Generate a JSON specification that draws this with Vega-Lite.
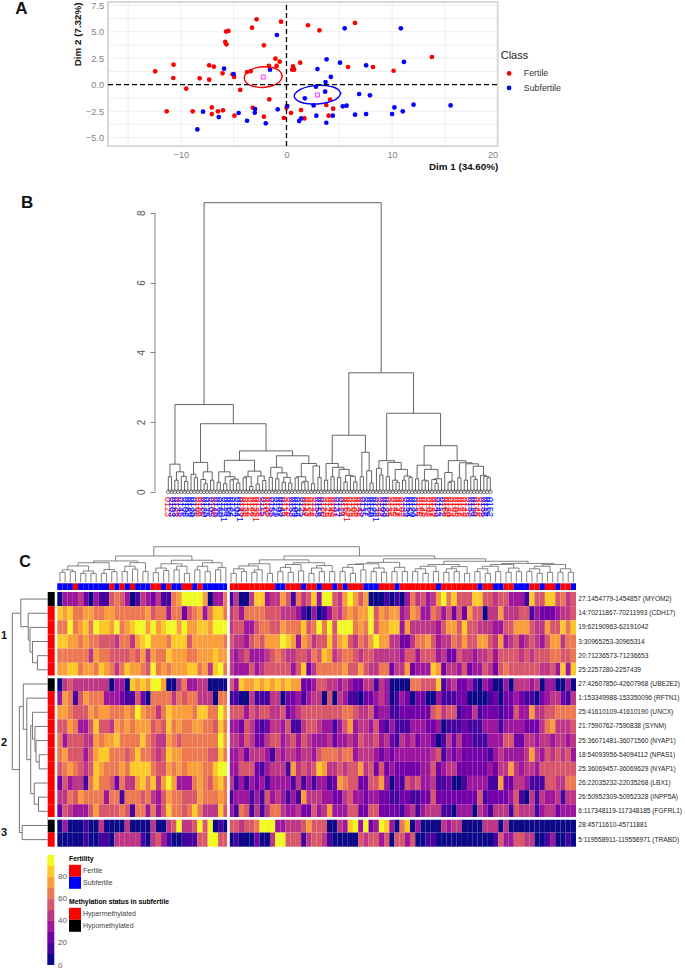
{"$schema":"https://vega.github.io/schema/vega-lite/v6.json","width":685,"height":971,"padding":0,"autosize":{"type":"none"},"background":"white","config":{"view":{"stroke":null},"font":"Liberation Sans"},"data":{"values":[{}]},"resolve":{"scale":{"x":"independent","y":"independent","color":"independent"},"axis":{"x":"independent","y":"independent"},"legend":{"color":"independent"}},"layer":[
{"layer":[
{"data":{"values":[{"g":-15},{"g":-10},{"g":-5},{"g":0},{"g":5},{"g":10},{"g":15}]},"mark":{"type":"rule","color":"#eeeeee","strokeWidth":1},"encoding":{"x":{"field":"g","type":"quantitative","scale":{"domain":[-16.9,20],"range":[108,497.7],"nice":false,"zero":false},"axis":null},"y":{"datum":-5.8,"type":"quantitative","scale":{"domain":[-5.8,7.82],"range":[146,2],"nice":false,"zero":false},"axis":null},"y2":{"datum":7.82}}},
{"data":{"values":[{"g":-5},{"g":-3.75},{"g":-2.5},{"g":-1.25},{"g":0},{"g":1.25},{"g":2.5},{"g":3.75},{"g":5},{"g":6.25},{"g":7.5}]},"mark":{"type":"rule","color":"#eeeeee","strokeWidth":1},"encoding":{"y":{"field":"g","type":"quantitative","axis":null},"x":{"datum":-16.9,"type":"quantitative","axis":null},"x2":{"datum":20}}},
{"mark":{"type":"rect","fill":null,"stroke":"#d9d9d9","strokeWidth":2},"encoding":{"x":{"datum":-16.9,"type":"quantitative","axis":null},"x2":{"datum":20},"y":{"datum":-5.8,"type":"quantitative","axis":null},"y2":{"datum":7.82}}}
]},
{"data":{"values":"x,y,Class\n-2.83,6.18,Fertile\n-3.26,5.39,Fertile\n-0.51,5.96,Fertile\n2.03,5.62,Fertile\n3.12,5.14,Fertile\n6.49,5.84,Fertile\n-5.72,5.02,Fertile\n-5.51,5.08,Fertile\n-5.8,4.04,Fertile\n-5.69,3.82,Fertile\n-2.14,3.72,Fertile\n-1.05,2.46,Fertile\n-0.65,2.18,Fertile\n-10.69,1.89,Fertile\n-12.43,1.26,Fertile\n-7.32,1.83,Fertile\n-6.88,1.7,Fertile\n-1.67,1.77,Fertile\n-0.94,1.77,Fertile\n0.62,1.73,Fertile\n1.3,2.08,Fertile\n0.54,1.42,Fertile\n0.72,1.42,Fertile\n0.65,1.55,Fertile\n5.83,1.67,Fertile\n8.19,1.67,Fertile\n10.14,1.32,Fertile\n13.77,2.62,Fertile\n-10.72,0.63,Fertile\n-8.22,0.6,Fertile\n-7.32,0.47,Fertile\n-6.05,1.07,Fertile\n-5.11,0.98,Fertile\n-4.96,0.73,Fertile\n-3.73,1.2,Fertile\n-3.37,1.29,Fertile\n-9.49,-0.38,Fertile\n-4.38,-0.5,Fertile\n-1.63,-1.39,Fertile\n-11.34,-2.52,Fertile\n-8.88,-2.52,Fertile\n-7.07,-2.15,Fertile\n-7.07,-2.78,Fertile\n-6.49,-2.52,Fertile\n-6.01,-2.43,Fertile\n-4.93,-2.93,Fertile\n-3.19,-2.18,Fertile\n-2.14,-3.03,Fertile\n-0.25,-3.15,Fertile\n0,-2.18,Fertile\n0.43,-2.68,Fertile\n1.38,-2.4,Fertile\n1.7,-3.19,Fertile\n3.77,-1.92,Fertile\n4.13,-1.42,Fertile\n4.42,-2.27,Fertile\n3.99,-2.93,Fertile\n-0.91,4.7,Subfertile\n5.51,5.33,Subfertile\n10.83,5.33,Subfertile\n3.8,2.4,Subfertile\n5.07,2.08,Subfertile\n7.54,1.83,Subfertile\n11.12,2.15,Subfertile\n2.93,1.48,Subfertile\n-5.91,1.51,Subfertile\n-5,1.01,Subfertile\n-1.56,1.42,Subfertile\n4.2,0.73,Subfertile\n3.7,0.25,Subfertile\n2.79,-0.19,Subfertile\n3.66,-0.66,Subfertile\n1.74,-1.29,Subfertile\n6.88,-0.88,Subfertile\n7.9,-1.01,Subfertile\n2.57,-1.96,Subfertile\n5.33,-2.05,Subfertile\n5.69,-1.99,Subfertile\n10.22,-2.15,Subfertile\n12.03,-1.89,Subfertile\n15.54,-1.96,Subfertile\n11.01,-2.52,Subfertile\n10,-2.78,Subfertile\n7.54,-2.78,Subfertile\n6.49,-2.84,Subfertile\n4.38,-2.93,Subfertile\n2.83,-2.93,Subfertile\n3.77,-3.6,Subfertile\n1.38,-3.19,Subfertile\n1.2,-3.44,Subfertile\n0.07,-2.02,Subfertile\n-0.83,-2.33,Subfertile\n-2.97,-2.3,Subfertile\n-3,-2.65,Subfertile\n-4.53,-2.68,Subfertile\n-6.41,-3.06,Subfertile\n-7.9,-2.55,Subfertile\n-3.73,-3.41,Subfertile\n-1.96,-3.66,Subfertile\n-8.44,-4.23,Subfertile","format":{"type":"csv","parse":{"x":"number","y":"number"}}},"mark":{"type":"circle","size":22,"opacity":1},"encoding":{"x":{"field":"x","type":"quantitative","scale":{"domain":[-16.9,20],"range":[108,497.7],"nice":false,"zero":false},"axis":{"orient":"bottom","offset":-825,"values":[-10,0,10,20],"grid":false,"domain":false,"ticks":false,"labelColor":"#7f7f7f","labelFontSize":9.2,"labelPadding":4,"title":"Dim 1 (34.60%)","titleAnchor":"end","titleFontWeight":"bold","titleFontSize":9.8,"titleColor":"#111111","titlePadding":2}},"y":{"field":"y","type":"quantitative","scale":{"domain":[-5.8,7.82],"range":[146,2],"nice":false,"zero":false},"axis":{"orient":"left","offset":-108,"values":[-5,-2.5,0,2.5,5,7.5],"format":".1f","grid":false,"domain":false,"ticks":false,"labelColor":"#7f7f7f","labelFontSize":9.2,"labelPadding":4.5,"title":"Dim 2 (7.32%)","titleAnchor":"end","titleFontWeight":"bold","titleFontSize":9.8,"titleColor":"#111111","titlePadding":3}},"color":{"field":"Class","type":"nominal","scale":{"domain":["Fertile","Subfertile"],"range":["#ff0000","#0000ff"]},"legend":{"orient":"none","legendX":500.7,"legendY":50,"title":"Class","titleFontSize":11,"titleFontWeight":"normal","titleColor":"#222222","titlePadding":8,"labelFontSize":8.8,"labelColor":"#333333","labelOffset":10.3,"symbolType":"circle","symbolSize":22,"symbolOffset":4,"rowPadding":4.5}}}},
{"layer":[
{"data":{"values":"i,x,y,Class\n1,-0.4,0.81,Fertile\n2,-0.54,1.17,Fertile\n3,-0.92,1.48,Fertile\n4,-1.52,1.65,Fertile\n5,-2.2,1.7,Fertile\n6,-2.88,1.59,Fertile\n7,-3.48,1.36,Fertile\n8,-3.86,1.01,Fertile\n9,-4,0.63,Fertile\n10,-3.86,0.27,Fertile\n11,-3.48,-0.04,Fertile\n12,-2.88,-0.21,Fertile\n13,-2.2,-0.26,Fertile\n14,-1.52,-0.15,Fertile\n15,-0.92,0.08,Fertile\n16,-0.54,0.43,Fertile\n17,-0.4,0.81,Fertile\n1,5.13,-0.82,Subfertile\n2,4.95,-0.5,Subfertile\n3,4.49,-0.24,Subfertile\n4,3.77,-0.09,Subfertile\n5,2.93,-0.07,Subfertile\n6,2.09,-0.19,Subfertile\n7,1.37,-0.42,Subfertile\n8,0.91,-0.74,Subfertile\n9,0.73,-1.08,Subfertile\n10,0.91,-1.4,Subfertile\n11,1.37,-1.66,Subfertile\n12,2.09,-1.81,Subfertile\n13,2.93,-1.83,Subfertile\n14,3.77,-1.71,Subfertile\n15,4.49,-1.48,Subfertile\n16,4.95,-1.16,Subfertile\n17,5.13,-0.82,Subfertile","format":{"type":"csv","parse":{"i":"number","x":"number","y":"number"}}},"mark":{"type":"line","strokeWidth":1.4,"interpolate":"cardinal-closed"},"encoding":{"x":{"field":"x","type":"quantitative","scale":{"domain":[-16.9,20],"range":[108,497.7],"nice":false,"zero":false},"axis":null},"y":{"field":"y","type":"quantitative","scale":{"domain":[-5.8,7.82],"range":[146,2],"nice":false,"zero":false},"axis":null},"order":{"field":"i","type":"quantitative"},"color":{"field":"Class","type":"nominal","scale":{"domain":["Fertile","Subfertile"],"range":["#ff0000","#0000ff"]},"legend":null}}},
{"data":{"values":[{"x":-2.2,"y":0.72},{"x":2.93,"y":-0.97}]},"mark":{"type":"square","filled":false,"size":16,"stroke":"#ff33ff","strokeWidth":1,"opacity":1},"encoding":{"x":{"field":"x","type":"quantitative","axis":null},"y":{"field":"y","type":"quantitative","axis":null}}},
{"mark":{"type":"rule","stroke":"#000000","strokeWidth":1.3,"strokeDash":[5,3]},"encoding":{"x":{"datum":0,"type":"quantitative","axis":null},"y":{"datum":-5.8,"type":"quantitative","axis":null},"y2":{"datum":7.82}}},
{"mark":{"type":"rule","stroke":"#000000","strokeWidth":1.3,"strokeDash":[5,3]},"encoding":{"y":{"datum":0,"type":"quantitative","axis":null},"x":{"datum":-16.9,"type":"quantitative","axis":null},"x2":{"datum":20}}},
{"data":{"values":[{"t":"A"}]},"mark":{"type":"text","fontSize":17,"fontWeight":"bold","color":"#111111"},"encoding":{"text":{"field":"t"},"x":{"datum":-25.1,"type":"quantitative","axis":null},"y":{"datum":7.17,"type":"quantitative","axis":null}}}
]},
{"data":{"name":"treeB","values":"l,r,h,hl,hr\n1,2,.43,0,0\n3,4,.33,0,0\n6,7,.29,0,0\n5,6.5,.44,0,.29\n3.5,5.75,.57,.33,.44\n1.5,4.6,.79,.43,.57\n9,10,.4,0,0\n8,9.5,.5,0,.4\n12,13,.23,0,0\n11,12.5,.35,0,.23\n14,15,.33,0,0\n11.75,14.5,.57,.35,.33\n8.75,13.1,.84,.5,.57\n16,17,.27,0,0\n18,19,.23,0,0\n20,21,.34,0,0\n22,23,.25,0,0\n20.5,22.5,.36,.34,.25\n18.5,21.5,.43,.23,.36\n16.5,20,.57,.27,.43\n24,25,.4,0,0\n26,27,.15,0,0\n24.5,26.5,.43,.4,.15\n28,29,.22,0,0\n30,31,.32,0,0\n28.5,30.5,.45,.22,.32\n25.5,29.5,.59,.43,.45\n18.25,27.5,.9,.57,.59\n32,33,.41,0,0\n34,35,.37,0,0\n36,37,.27,0,0\n38,39,.25,0,0\n36.5,38.5,.41,.27,.25\n34.5,37.5,.54,.37,.41\n32.5,36,.7,.41,.54\n40,41,.4,0,0\n42,43,.27,0,0\n42.5,44,.3,.27,0\n40.5,43.25,.43,.4,.3\n45,46,.23,0,0\n47,48,.41,0,0\n45.5,47.5,.74,.23,.41\n41.9,46.5,.81,.43,.74\n34.25,44.2,1.03,.7,.81\n22.9,39.2,1.17,.9,1.03\n10.9,31.05,1.95,.84,1.17\n3.05,21,2.5,.79,1.95\n49,50,.33,0,0\n51,52,.43,0,0\n53,54,.41,0,0\n55,56,.28,0,0\n58,59,.28,0,0\n57,58.5,.44,0,.28\n55.5,57.75,.47,.28,.44\n53.5,56.6,.64,.41,.47\n51.5,55,.7,.43,.64\n49.5,53.25,.81,.33,.7\n60,61,.43,0,0\n63,64,.25,0,0\n62,63.5,.6,0,.25\n60.5,62.75,1.13,.43,.6\n51.4,61.6,1.62,.81,1.13\n66,67,.48,0,0\n65,66.5,.67,0,.48\n68,69,.43,0,0\n71,72,.27,0,0\n70,71.5,.33,0,.27\n73,74,.33,0,0\n75,76,.41,0,0\n73.5,75.5,.45,.33,.41\n70.75,74.5,.64,.33,.45\n68.5,72.6,.84,.43,.64\n65.75,70.55,.89,.67,.84\n77,78,.37,0,0\n80,81,.31,0,0\n79,80.5,.33,0,.31\n83,84,.24,0,0\n82,83.5,.35,0,.24\n82.75,85,.37,.35,0\n79.75,83.9,.64,.33,.37\n77.5,81.8,.76,.37,.64\n87,88,.27,0,0\n87.5,89,.3,.27,0\n86,88.25,.55,0,.3\n90,91,.4,0,0\n92,93,.33,0,0\n95,96,.35,0,0\n94,95.5,.43,0,.35\n99,100,.4,0,0\n98,99.5,.44,0,.4\n97,98.75,.47,0,.44\n94.75,97.9,.73,.43,.47\n92.5,96.3,.8,.33,.73\n90.5,94.4,.83,.4,.8\n87.1,92.45,.89,.55,.83\n79.65,89.8,1.32,.76,.89\n68.15,84.7,2.25,.89,1.32\n56.5,76.4,3.41,1.62,2.25\n12,66.45,8.29,2.5,3.41","format":{"type":"csv","parse":{"l":"number","r":"number","h":"number","hl":"number","hr":"number"}}},"mark":{"type":"rule","color":"#555555","strokeWidth":0.9},"encoding":{"x":{"field":"l","type":"quantitative","scale":{"domain":[1,100],"range":[168.3,490.3],"nice":false,"zero":false},"axis":null},"x2":{"field":"r"},"y":{"field":"h","type":"quantitative","scale":{"domain":[0,8.29],"range":[491.7,202.7],"nice":false,"zero":false},"axis":{"orient":"left","offset":-155,"values":[0,2,4,6,8],"domain":false,"grid":false,"tickSize":5,"tickColor":"#888888","labelAngle":-90,"labelFontSize":10,"labelColor":"#555555","labelPadding":4,"title":null}}}},
{"layer":[
{"data":{"name":"treeB"},"mark":{"type":"rule","color":"#555555","strokeWidth":0.9},"encoding":{"x":{"field":"l","type":"quantitative","scale":{"domain":[1,100],"range":[168.3,490.3],"nice":false,"zero":false},"axis":null},"y":{"field":"hl","type":"quantitative","scale":{"domain":[0,8.29],"range":[491.7,202.7],"nice":false,"zero":false},"axis":null},"y2":{"field":"h"}}},
{"data":{"name":"treeB"},"mark":{"type":"rule","color":"#555555","strokeWidth":0.9},"encoding":{"x":{"field":"r","type":"quantitative","axis":null},"y":{"field":"hr","type":"quantitative","axis":null},"y2":{"field":"h"}}},
{"mark":{"type":"rule","color":"#888888","strokeWidth":1},"encoding":{"x":{"datum":-3.1,"type":"quantitative","axis":null},"y":{"datum":0,"type":"quantitative","axis":null},"y2":{"datum":8}}},
{"data":{"name":"leafB","values":"i,t,Class\n1,0123,Fertile\n2,0103,Subfertile\n3,0163,Subfertile\n4,0136,Fertile\n5,0145,Subfertile\n6,0106,Subfertile\n7,0183,Subfertile\n8,0120,Subfertile\n9,0135,Subfertile\n10,0108,Fertile\n11,0116,Fertile\n12,0130,Subfertile\n13,0125,Subfertile\n14,0105,Subfertile\n15,0140,Fertile\n16,0126,Subfertile\n17,0160,Subfertile\n18,01231,Subfertile\n19,0110,Subfertile\n20,0156,Subfertile\n21,0132,Subfertile\n22,0104,Subfertile\n23,01421,Subfertile\n24,0165,Fertile\n25,0138,Fertile\n26,0112,Fertile\n27,0146,Fertile\n28,01351,Fertile\n29,0128,Fertile\n30,0115,Subfertile\n31,0102,Fertile\n32,0136,Fertile\n33,0155,Subfertile\n34,0129,Subfertile\n35,0107,Subfertile\n36,0143,Subfertile\n37,0118,Fertile\n38,0126,Fertile\n39,0153,Subfertile\n40,0109,Subfertile\n41,0134,Subfertile\n42,0125,Subfertile\n43,0147,Fertile\n44,0113,Fertile\n45,0136,Fertile\n46,0122,Fertile\n47,0158,Subfertile\n48,0119,Subfertile\n49,0130,Fertile\n50,0126,Fertile\n51,0145,Fertile\n52,0103,Fertile\n53,0137,Subfertile\n54,0124,Subfertile\n55,0116,Fertile\n56,01521,Fertile\n57,0139,Fertile\n58,0106,Fertile\n59,0128,Fertile\n60,0142,Fertile\n61,0135,Subfertile\n62,0117,Subfertile\n63,0150,Subfertile\n64,0126,Subfertile\n65,01381,Subfertile\n66,0144,Fertile\n67,0109,Subfertile\n68,0123,Subfertile\n69,0136,Fertile\n70,0115,Fertile\n71,0148,Fertile\n72,0127,Fertile\n73,0102,Fertile\n74,0139,Subfertile\n75,0154,Subfertile\n76,0120,Subfertile\n77,0133,Subfertile\n78,0116,Fertile\n79,0146,Fertile\n80,0125,Fertile\n81,0108,Fertile\n82,0137,Fertile\n83,0129,Fertile\n84,0143,Subfertile\n85,0112,Subfertile\n86,0156,Fertile\n87,0130,Fertile\n88,0124,Fertile\n89,0105,Fertile\n90,0138,Fertile\n91,0117,Fertile\n92,0149,Fertile\n93,0126,Fertile\n94,0133,Subfertile\n95,0110,Subfertile\n96,0145,Fertile\n97,0128,Fertile\n98,0136,Subfertile\n99,0119,Subfertile\n100,0152,Subfertile","format":{"type":"csv","parse":{"i":"number"}}},"mark":{"type":"circle","size":14,"filled":false,"fillOpacity":0,"stroke":"#444444","strokeWidth":0.7,"opacity":1},"encoding":{"x":{"field":"i","type":"quantitative","axis":null},"y":{"datum":0,"type":"quantitative","axis":null}}},
{"data":{"name":"leafB"},"mark":{"type":"text","angle":90,"align":"left","baseline":"middle","fontSize":9},"encoding":{"text":{"field":"t"},"x":{"field":"i","type":"quantitative","axis":null},"y":{"datum":-0.15,"type":"quantitative","axis":null},"color":{"field":"Class","type":"nominal","scale":{"domain":["Fertile","Subfertile"],"range":["#ff0000","#0000ff"]},"legend":null}}},
{"data":{"values":[{"t":"B"}]},"mark":{"type":"text","fontSize":17,"fontWeight":"bold","color":"#111111"},"encoding":{"text":{"field":"t"},"x":{"datum":-42.4,"type":"quantitative","axis":null},"y":{"datum":8.28,"type":"quantitative","axis":null}}}
]},
{"data":{"values":"r,c,v\n1,1,5\n1,2,35\n1,3,35\n1,4,35\n1,5,45\n1,6,25\n1,7,5\n1,8,35\n1,9,15\n1,10,15\n1,11,55\n1,12,65\n1,13,55\n1,14,35\n1,15,5\n1,16,15\n1,17,45\n1,18,35\n1,19,25\n1,20,45\n1,21,15\n1,22,15\n1,23,65\n1,24,75\n1,25,95\n1,26,95\n1,27,95\n1,28,95\n1,29,75\n1,30,5\n1,31,35\n1,32,35\n1,33,65\n1,34,15\n1,35,45\n1,36,5\n1,37,5\n1,38,45\n1,39,85\n1,40,85\n1,41,35\n1,42,45\n1,43,45\n1,44,75\n1,45,55\n1,46,15\n1,47,65\n1,48,45\n1,49,55\n1,50,85\n1,51,35\n1,52,95\n1,53,95\n1,54,55\n1,55,45\n1,56,75\n1,57,95\n1,58,75\n1,59,55\n1,60,75\n1,61,5\n1,62,5\n1,63,5\n1,64,15\n1,65,5\n1,66,15\n1,67,5\n1,68,35\n1,69,65\n1,70,45\n1,71,55\n1,72,35\n1,73,45\n1,74,75\n1,75,95\n1,76,65\n1,77,85\n1,78,55\n1,79,55\n1,80,55\n1,81,85\n1,82,85\n1,83,55\n1,84,55\n1,85,45\n1,86,55\n1,87,55\n1,88,35\n1,89,35\n1,90,35\n1,91,15\n1,92,85\n1,93,55\n1,94,55\n1,95,85\n1,96,85\n1,97,55\n1,98,65\n1,99,45\n1,100,55\n2,1,85\n2,2,75\n2,3,85\n2,4,65\n2,5,65\n2,6,75\n2,7,75\n2,8,65\n2,9,65\n2,10,75\n2,11,75\n2,12,65\n2,13,65\n2,14,65\n2,15,65\n2,16,65\n2,17,65\n2,18,75\n2,19,55\n2,20,65\n2,21,65\n2,22,35\n2,23,65\n2,24,65\n2,25,25\n2,26,55\n2,27,65\n2,28,75\n2,29,35\n2,30,65\n2,31,85\n2,32,85\n2,33,65\n2,34,45\n2,35,55\n2,36,35\n2,37,65\n2,38,65\n2,39,65\n2,40,65\n2,41,55\n2,42,55\n2,43,55\n2,44,45\n2,45,45\n2,46,45\n2,47,35\n2,48,15\n2,49,5\n2,50,35\n2,51,5\n2,52,15\n2,53,35\n2,54,55\n2,55,45\n2,56,65\n2,57,75\n2,58,65\n2,59,75\n2,60,75\n2,61,95\n2,62,55\n2,63,75\n2,64,65\n2,65,75\n2,66,75\n2,67,35\n2,68,45\n2,69,75\n2,70,65\n2,71,35\n2,72,35\n2,73,65\n2,74,55\n2,75,35\n2,76,55\n2,77,25\n2,78,55\n2,79,25\n2,80,75\n2,81,55\n2,82,55\n2,83,5\n2,84,45\n2,85,45\n2,86,75\n2,87,45\n2,88,45\n2,89,45\n2,90,55\n2,91,55\n2,92,15\n2,93,35\n2,94,25\n2,95,25\n2,96,25\n2,97,35\n2,98,45\n2,99,45\n2,100,55\n3,1,65\n3,2,65\n3,3,95\n3,4,65\n3,5,75\n3,6,85\n3,7,65\n3,8,95\n3,9,85\n3,10,85\n3,11,75\n3,12,95\n3,13,65\n3,14,75\n3,15,85\n3,16,95\n3,17,95\n3,18,75\n3,19,95\n3,20,75\n3,21,85\n3,22,95\n3,23,95\n3,24,75\n3,25,95\n3,26,75\n3,27,75\n3,28,85\n3,29,85\n3,30,75\n3,31,95\n3,32,95\n3,33,95\n3,34,45\n3,35,55\n3,36,55\n3,37,35\n3,38,35\n3,39,55\n3,40,65\n3,41,65\n3,42,55\n3,43,55\n3,44,75\n3,45,65\n3,46,65\n3,47,65\n3,48,85\n3,49,55\n3,50,65\n3,51,95\n3,52,65\n3,53,95\n3,54,55\n3,55,95\n3,56,95\n3,57,95\n3,58,65\n3,59,75\n3,60,65\n3,61,95\n3,62,55\n3,63,75\n3,64,75\n3,65,85\n3,66,85\n3,67,35\n3,68,75\n3,69,45\n3,70,45\n3,71,45\n3,72,45\n3,73,45\n3,74,35\n3,75,55\n3,76,75\n3,77,75\n3,78,55\n3,79,85\n3,80,55\n3,81,55\n3,82,45\n3,83,45\n3,84,45\n3,85,35\n3,86,35\n3,87,55\n3,88,55\n3,89,75\n3,90,75\n3,91,75\n3,92,55\n3,93,45\n3,94,45\n3,95,75\n3,96,55\n3,97,55\n3,98,85\n3,99,65\n3,100,85\n4,1,85\n4,2,85\n4,3,75\n4,4,75\n4,5,65\n4,6,75\n4,7,65\n4,8,65\n4,9,55\n4,10,55\n4,11,55\n4,12,45\n4,13,65\n4,14,65\n4,15,45\n4,16,75\n4,17,85\n4,18,95\n4,19,75\n4,20,75\n4,21,75\n4,22,65\n4,23,85\n4,24,85\n4,25,85\n4,26,55\n4,27,75\n4,28,75\n4,29,75\n4,30,75\n4,31,75\n4,32,75\n4,33,65\n4,34,55\n4,35,45\n4,36,45\n4,37,35\n4,38,55\n4,39,65\n4,40,55\n4,41,75\n4,42,75\n4,43,75\n4,44,95\n4,45,85\n4,46,75\n4,47,35\n4,48,75\n4,49,65\n4,50,45\n4,51,55\n4,52,55\n4,53,85\n4,54,55\n4,55,75\n4,56,85\n4,57,55\n4,58,45\n4,59,65\n4,60,55\n4,61,75\n4,62,95\n4,63,75\n4,64,75\n4,65,45\n4,66,45\n4,67,25\n4,68,25\n4,69,45\n4,70,65\n4,71,65\n4,72,75\n4,73,55\n4,74,35\n4,75,45\n4,76,45\n4,77,65\n4,78,55\n4,79,75\n4,80,55\n4,81,55\n4,82,75\n4,83,75\n4,84,55\n4,85,45\n4,86,75\n4,87,35\n4,88,45\n4,89,55\n4,90,35\n4,91,45\n4,92,55\n4,93,45\n4,94,35\n4,95,55\n4,96,75\n4,97,75\n4,98,45\n4,99,65\n4,100,65\n5,1,65\n5,2,65\n5,3,65\n5,4,65\n5,5,65\n5,6,65\n5,7,45\n5,8,75\n5,9,65\n5,10,65\n5,11,55\n5,12,55\n5,13,55\n5,14,55\n5,15,65\n5,16,55\n5,17,75\n5,18,45\n5,19,75\n5,20,65\n5,21,65\n5,22,85\n5,23,75\n5,24,75\n5,25,75\n5,26,65\n5,27,65\n5,28,75\n5,29,75\n5,30,75\n5,31,85\n5,32,75\n5,33,75\n5,34,45\n5,35,35\n5,36,45\n5,37,55\n5,38,35\n5,39,35\n5,40,35\n5,41,45\n5,42,55\n5,43,65\n5,44,55\n5,45,45\n5,46,45\n5,47,55\n5,48,55\n5,49,45\n5,50,65\n5,51,55\n5,52,85\n5,53,75\n5,54,45\n5,55,55\n5,56,65\n5,57,65\n5,58,55\n5,59,45\n5,60,55\n5,61,55\n5,62,45\n5,63,45\n5,64,45\n5,65,45\n5,66,45\n5,67,35\n5,68,55\n5,69,55\n5,70,35\n5,71,55\n5,72,55\n5,73,55\n5,74,35\n5,75,45\n5,76,25\n5,77,25\n5,78,55\n5,79,45\n5,80,45\n5,81,35\n5,82,45\n5,83,45\n5,84,55\n5,85,35\n5,86,55\n5,87,55\n5,88,55\n5,89,55\n5,90,45\n5,91,55\n5,92,45\n5,93,55\n5,94,55\n5,95,55\n5,96,65\n5,97,65\n5,98,55\n5,99,55\n5,100,65\n6,1,75\n6,2,75\n6,3,85\n6,4,85\n6,5,65\n6,6,75\n6,7,75\n6,8,65\n6,9,85\n6,10,75\n6,11,65\n6,12,45\n6,13,65\n6,14,85\n6,15,75\n6,16,75\n6,17,65\n6,18,55\n6,19,95\n6,20,65\n6,21,75\n6,22,65\n6,23,75\n6,24,75\n6,25,75\n6,26,85\n6,27,85\n6,28,65\n6,29,75\n6,30,45\n6,31,85\n6,32,95\n6,33,65\n6,34,45\n6,35,35\n6,36,35\n6,37,35\n6,38,55\n6,39,35\n6,40,45\n6,41,55\n6,42,55\n6,43,55\n6,44,55\n6,45,55\n6,46,35\n6,47,55\n6,48,85\n6,49,25\n6,50,45\n6,51,65\n6,52,65\n6,53,65\n6,54,65\n6,55,65\n6,56,75\n6,57,55\n6,58,55\n6,59,75\n6,60,55\n6,61,45\n6,62,45\n6,63,65\n6,64,65\n6,65,25\n6,66,45\n6,67,45\n6,68,75\n6,69,25\n6,70,35\n6,71,35\n6,72,35\n6,73,85\n6,74,75\n6,75,25\n6,76,45\n6,77,45\n6,78,35\n6,79,55\n6,80,25\n6,81,35\n6,82,35\n6,83,55\n6,84,45\n6,85,25\n6,86,55\n6,87,65\n6,88,55\n6,89,55\n6,90,55\n6,91,55\n6,92,55\n6,93,55\n6,94,45\n6,95,45\n6,96,55\n6,97,35\n6,98,85\n6,99,35\n6,100,85\n7,1,5\n7,2,45\n7,3,55\n7,4,45\n7,5,45\n7,6,45\n7,7,45\n7,8,45\n7,9,45\n7,10,45\n7,11,5\n7,12,35\n7,13,35\n7,14,5\n7,15,85\n7,16,75\n7,17,85\n7,18,75\n7,19,95\n7,20,95\n7,21,75\n7,22,5\n7,23,5\n7,24,45\n7,25,65\n7,26,35\n7,27,35\n7,28,45\n7,29,45\n7,30,5\n7,31,5\n7,32,5\n7,33,5\n7,34,55\n7,35,35\n7,36,85\n7,37,75\n7,38,75\n7,39,85\n7,40,75\n7,41,85\n7,42,75\n7,43,85\n7,44,75\n7,45,85\n7,46,75\n7,47,75\n7,48,25\n7,49,25\n7,50,35\n7,51,55\n7,52,55\n7,53,45\n7,54,45\n7,55,35\n7,56,45\n7,57,35\n7,58,25\n7,59,25\n7,60,45\n7,61,45\n7,62,15\n7,63,45\n7,64,35\n7,65,5\n7,66,5\n7,67,5\n7,68,5\n7,69,65\n7,70,65\n7,71,55\n7,72,55\n7,73,55\n7,74,85\n7,75,15\n7,76,35\n7,77,45\n7,78,25\n7,79,25\n7,80,35\n7,81,15\n7,82,5\n7,83,35\n7,84,25\n7,85,5\n7,86,5\n7,87,35\n7,88,5\n7,89,45\n7,90,45\n7,91,45\n7,92,35\n7,93,45\n7,94,5\n7,95,35\n7,96,35\n7,97,5\n7,98,5\n7,99,35\n7,100,5\n8,1,35\n8,2,75\n8,3,65\n8,4,15\n8,5,55\n8,6,75\n8,7,65\n8,8,65\n8,9,65\n8,10,35\n8,11,35\n8,12,35\n8,13,25\n8,14,15\n8,15,15\n8,16,55\n8,17,25\n8,18,5\n8,19,65\n8,20,65\n8,21,65\n8,22,65\n8,23,45\n8,24,65\n8,25,55\n8,26,65\n8,27,65\n8,28,45\n8,29,45\n8,30,45\n8,31,5\n8,32,65\n8,33,65\n8,34,15\n8,35,15\n8,36,5\n8,37,5\n8,38,45\n8,39,15\n8,40,15\n8,41,15\n8,42,45\n8,43,45\n8,44,5\n8,45,25\n8,46,25\n8,47,35\n8,48,15\n8,49,35\n8,50,45\n8,51,45\n8,52,5\n8,53,55\n8,54,5\n8,55,45\n8,56,35\n8,57,15\n8,58,15\n8,59,5\n8,60,25\n8,61,25\n8,62,35\n8,63,45\n8,64,35\n8,65,5\n8,66,15\n8,67,35\n8,68,25\n8,69,5\n8,70,25\n8,71,25\n8,72,5\n8,73,5\n8,74,35\n8,75,15\n8,76,15\n8,77,15\n8,78,25\n8,79,25\n8,80,5\n8,81,5\n8,82,5\n8,83,5\n8,84,15\n8,85,25\n8,86,5\n8,87,25\n8,88,25\n8,89,35\n8,90,25\n8,91,15\n8,92,15\n8,93,5\n8,94,25\n8,95,35\n8,96,45\n8,97,45\n8,98,25\n8,99,15\n8,100,45\n9,1,75\n9,2,75\n9,3,65\n9,4,55\n9,5,55\n9,6,55\n9,7,75\n9,8,65\n9,9,75\n9,10,75\n9,11,65\n9,12,65\n9,13,65\n9,14,75\n9,15,65\n9,16,95\n9,17,75\n9,18,65\n9,19,65\n9,20,45\n9,21,65\n9,22,85\n9,23,75\n9,24,75\n9,25,75\n9,26,75\n9,27,65\n9,28,85\n9,29,85\n9,30,65\n9,31,65\n9,32,95\n9,33,75\n9,34,55\n9,35,55\n9,36,55\n9,37,35\n9,38,55\n9,39,45\n9,40,55\n9,41,55\n9,42,45\n9,43,45\n9,44,55\n9,45,25\n9,46,35\n9,47,45\n9,48,55\n9,49,55\n9,50,55\n9,51,55\n9,52,55\n9,53,55\n9,54,55\n9,55,55\n9,56,65\n9,57,65\n9,58,55\n9,59,45\n9,60,45\n9,61,55\n9,62,25\n9,63,35\n9,64,35\n9,65,15\n9,66,15\n9,67,25\n9,68,25\n9,69,25\n9,70,25\n9,71,25\n9,72,25\n9,73,55\n9,74,65\n9,75,45\n9,76,55\n9,77,55\n9,78,15\n9,79,25\n9,80,25\n9,81,45\n9,82,15\n9,83,25\n9,84,25\n9,85,25\n9,86,15\n9,87,25\n9,88,25\n9,89,55\n9,90,35\n9,91,35\n9,92,75\n9,93,45\n9,94,45\n9,95,55\n9,96,55\n9,97,65\n9,98,65\n9,99,65\n9,100,65\n10,1,55\n10,2,55\n10,3,75\n10,4,65\n10,5,35\n10,6,35\n10,7,55\n10,8,85\n10,9,55\n10,10,55\n10,11,45\n10,12,75\n10,13,65\n10,14,75\n10,15,65\n10,16,75\n10,17,75\n10,18,75\n10,19,55\n10,20,65\n10,21,55\n10,22,85\n10,23,65\n10,24,75\n10,25,65\n10,26,65\n10,27,75\n10,28,75\n10,29,65\n10,30,65\n10,31,55\n10,32,85\n10,33,65\n10,34,35\n10,35,35\n10,36,25\n10,37,55\n10,38,45\n10,39,25\n10,40,15\n10,41,25\n10,42,45\n10,43,45\n10,44,35\n10,45,55\n10,46,15\n10,47,15\n10,48,45\n10,49,55\n10,50,55\n10,51,45\n10,52,35\n10,53,35\n10,54,15\n10,55,35\n10,56,55\n10,57,75\n10,58,35\n10,59,45\n10,60,45\n10,61,35\n10,62,55\n10,63,25\n10,64,15\n10,65,35\n10,66,15\n10,67,15\n10,68,15\n10,69,35\n10,70,35\n10,71,35\n10,72,25\n10,73,25\n10,74,35\n10,75,5\n10,76,15\n10,77,15\n10,78,15\n10,79,25\n10,80,15\n10,81,15\n10,82,15\n10,83,35\n10,84,35\n10,85,35\n10,86,15\n10,87,35\n10,88,35\n10,89,35\n10,90,35\n10,91,25\n10,92,25\n10,93,25\n10,94,45\n10,95,65\n10,96,75\n10,97,45\n10,98,45\n10,99,45\n10,100,55\n11,1,65\n11,2,35\n11,3,55\n11,4,55\n11,5,55\n11,6,45\n11,7,45\n11,8,75\n11,9,65\n11,10,75\n11,11,75\n11,12,85\n11,13,65\n11,14,65\n11,15,65\n11,16,65\n11,17,85\n11,18,65\n11,19,55\n11,20,45\n11,21,45\n11,22,75\n11,23,65\n11,24,55\n11,25,65\n11,26,65\n11,27,65\n11,28,65\n11,29,65\n11,30,65\n11,31,65\n11,32,95\n11,33,75\n11,34,45\n11,35,45\n11,36,35\n11,37,55\n11,38,45\n11,39,25\n11,40,25\n11,41,45\n11,42,55\n11,43,55\n11,44,35\n11,45,45\n11,46,55\n11,47,35\n11,48,55\n11,49,45\n11,50,35\n11,51,35\n11,52,35\n11,53,45\n11,54,25\n11,55,35\n11,56,35\n11,57,45\n11,58,35\n11,59,55\n11,60,45\n11,61,45\n11,62,55\n11,63,35\n11,64,45\n11,65,25\n11,66,15\n11,67,45\n11,68,35\n11,69,45\n11,70,25\n11,71,35\n11,72,35\n11,73,25\n11,74,5\n11,75,15\n11,76,45\n11,77,25\n11,78,45\n11,79,25\n11,80,25\n11,81,15\n11,82,15\n11,83,15\n11,84,35\n11,85,35\n11,86,35\n11,87,55\n11,88,55\n11,89,25\n11,90,25\n11,91,45\n11,92,45\n11,93,35\n11,94,45\n11,95,45\n11,96,35\n11,97,45\n11,98,45\n11,99,35\n11,100,45\n12,1,65\n12,2,75\n12,3,55\n12,4,55\n12,5,55\n12,6,35\n12,7,55\n12,8,75\n12,9,85\n12,10,85\n12,11,65\n12,12,65\n12,13,65\n12,14,55\n12,15,65\n12,16,85\n12,17,65\n12,18,65\n12,19,55\n12,20,45\n12,21,55\n12,22,85\n12,23,75\n12,24,75\n12,25,65\n12,26,65\n12,27,65\n12,28,65\n12,29,65\n12,30,55\n12,31,55\n12,32,85\n12,33,65\n12,34,35\n12,35,35\n12,36,45\n12,37,25\n12,38,45\n12,39,45\n12,40,45\n12,41,35\n12,42,15\n12,43,45\n12,44,35\n12,45,45\n12,46,45\n12,47,35\n12,48,45\n12,49,45\n12,50,35\n12,51,55\n12,52,65\n12,53,65\n12,54,65\n12,55,55\n12,56,65\n12,57,65\n12,58,35\n12,59,45\n12,60,45\n12,61,45\n12,62,35\n12,63,25\n12,64,35\n12,65,25\n12,66,35\n12,67,35\n12,68,35\n12,69,35\n12,70,35\n12,71,35\n12,72,35\n12,73,45\n12,74,55\n12,75,15\n12,76,35\n12,77,25\n12,78,35\n12,79,25\n12,80,25\n12,81,25\n12,82,25\n12,83,25\n12,84,15\n12,85,35\n12,86,45\n12,87,35\n12,88,35\n12,89,35\n12,90,35\n12,91,45\n12,92,75\n12,93,45\n12,94,35\n12,95,55\n12,96,45\n12,97,55\n12,98,45\n12,99,55\n12,100,35\n13,1,55\n13,2,65\n13,3,75\n13,4,65\n13,5,55\n13,6,45\n13,7,55\n13,8,85\n13,9,75\n13,10,65\n13,11,65\n13,12,65\n13,13,75\n13,14,65\n13,15,85\n13,16,85\n13,17,85\n13,18,85\n13,19,65\n13,20,55\n13,21,55\n13,22,75\n13,23,65\n13,24,75\n13,25,65\n13,26,75\n13,27,75\n13,28,75\n13,29,65\n13,30,65\n13,31,85\n13,32,95\n13,33,95\n13,34,35\n13,35,35\n13,36,55\n13,37,55\n13,38,55\n13,39,25\n13,40,15\n13,41,35\n13,42,45\n13,43,45\n13,44,45\n13,45,15\n13,46,75\n13,47,45\n13,48,55\n13,49,45\n13,50,55\n13,51,85\n13,52,75\n13,53,45\n13,54,45\n13,55,55\n13,56,45\n13,57,55\n13,58,55\n13,59,75\n13,60,45\n13,61,55\n13,62,25\n13,63,55\n13,64,25\n13,65,35\n13,66,25\n13,67,25\n13,68,25\n13,69,25\n13,70,25\n13,71,35\n13,72,35\n13,73,55\n13,74,25\n13,75,35\n13,76,45\n13,77,45\n13,78,25\n13,79,25\n13,80,25\n13,81,25\n13,82,25\n13,83,25\n13,84,35\n13,85,25\n13,86,45\n13,87,45\n13,88,75\n13,89,45\n13,90,35\n13,91,45\n13,92,45\n13,93,35\n13,94,55\n13,95,55\n13,96,55\n13,97,55\n13,98,55\n13,99,55\n13,100,55\n14,1,25\n14,2,55\n14,3,35\n14,4,45\n14,5,45\n14,6,15\n14,7,65\n14,8,85\n14,9,65\n14,10,65\n14,11,55\n14,12,25\n14,13,65\n14,14,45\n14,15,45\n14,16,75\n14,17,85\n14,18,65\n14,19,85\n14,20,45\n14,21,75\n14,22,95\n14,23,75\n14,24,35\n14,25,35\n14,26,35\n14,27,65\n14,28,75\n14,29,65\n14,30,55\n14,31,75\n14,32,85\n14,33,65\n14,34,45\n14,35,15\n14,36,35\n14,37,15\n14,38,35\n14,39,25\n14,40,35\n14,41,15\n14,42,35\n14,43,35\n14,44,35\n14,45,35\n14,46,15\n14,47,45\n14,48,15\n14,49,35\n14,50,15\n14,51,35\n14,52,35\n14,53,15\n14,54,25\n14,55,75\n14,56,65\n14,57,55\n14,58,55\n14,59,25\n14,60,25\n14,61,55\n14,62,55\n14,63,75\n14,64,35\n14,65,5\n14,66,25\n14,67,15\n14,68,55\n14,69,45\n14,70,55\n14,71,35\n14,72,35\n14,73,45\n14,74,15\n14,75,15\n14,76,25\n14,77,5\n14,78,5\n14,79,15\n14,80,35\n14,81,35\n14,82,35\n14,83,35\n14,84,15\n14,85,15\n14,86,75\n14,87,25\n14,88,25\n14,89,45\n14,90,45\n14,91,35\n14,92,15\n14,93,15\n14,94,15\n14,95,55\n14,96,55\n14,97,45\n14,98,45\n14,99,65\n14,100,65\n15,1,45\n15,2,45\n15,3,65\n15,4,55\n15,5,75\n15,6,65\n15,7,65\n15,8,65\n15,9,65\n15,10,35\n15,11,65\n15,12,65\n15,13,15\n15,14,65\n15,15,65\n15,16,65\n15,17,55\n15,18,65\n15,19,45\n15,20,35\n15,21,55\n15,22,75\n15,23,65\n15,24,65\n15,25,55\n15,26,55\n15,27,55\n15,28,75\n15,29,65\n15,30,65\n15,31,65\n15,32,75\n15,33,65\n15,34,15\n15,35,35\n15,36,35\n15,37,35\n15,38,15\n15,39,35\n15,40,15\n15,41,55\n15,42,35\n15,43,45\n15,44,35\n15,45,15\n15,46,35\n15,47,15\n15,48,75\n15,49,45\n15,50,45\n15,51,45\n15,52,35\n15,53,35\n15,54,25\n15,55,25\n15,56,45\n15,57,55\n15,58,35\n15,59,35\n15,60,25\n15,61,35\n15,62,35\n15,63,25\n15,64,25\n15,65,15\n15,66,15\n15,67,25\n15,68,25\n15,69,15\n15,70,15\n15,71,25\n15,72,25\n15,73,55\n15,74,25\n15,75,25\n15,76,25\n15,77,25\n15,78,25\n15,79,25\n15,80,25\n15,81,25\n15,82,55\n15,83,15\n15,84,25\n15,85,25\n15,86,25\n15,87,25\n15,88,35\n15,89,55\n15,90,15\n15,91,5\n15,92,45\n15,93,15\n15,94,45\n15,95,35\n15,96,35\n15,97,45\n15,98,15\n15,99,45\n15,100,45\n16,1,25\n16,2,55\n16,3,45\n16,4,35\n16,5,35\n16,6,35\n16,7,55\n16,8,75\n16,9,55\n16,10,55\n16,11,55\n16,12,55\n16,13,65\n16,14,55\n16,15,15\n16,16,65\n16,17,65\n16,18,35\n16,19,65\n16,20,35\n16,21,55\n16,22,85\n16,23,65\n16,24,65\n16,25,55\n16,26,65\n16,27,85\n16,28,65\n16,29,45\n16,30,45\n16,31,45\n16,32,85\n16,33,55\n16,34,35\n16,35,15\n16,36,65\n16,37,55\n16,38,15\n16,39,45\n16,40,15\n16,41,45\n16,42,65\n16,43,65\n16,44,45\n16,45,35\n16,46,35\n16,47,45\n16,48,25\n16,49,25\n16,50,55\n16,51,35\n16,52,45\n16,53,75\n16,54,35\n16,55,35\n16,56,35\n16,57,55\n16,58,55\n16,59,25\n16,60,25\n16,61,55\n16,62,55\n16,63,25\n16,64,25\n16,65,25\n16,66,25\n16,67,15\n16,68,35\n16,69,45\n16,70,15\n16,71,35\n16,72,45\n16,73,45\n16,74,45\n16,75,15\n16,76,15\n16,77,5\n16,78,35\n16,79,35\n16,80,35\n16,81,5\n16,82,45\n16,83,35\n16,84,15\n16,85,45\n16,86,45\n16,87,45\n16,88,15\n16,89,55\n16,90,45\n16,91,45\n16,92,45\n16,93,15\n16,94,35\n16,95,45\n16,96,45\n16,97,25\n16,98,35\n16,99,35\n16,100,35\n17,1,5\n17,2,35\n17,3,5\n17,4,5\n17,5,5\n17,6,15\n17,7,5\n17,8,5\n17,9,45\n17,10,5\n17,11,5\n17,12,5\n17,13,5\n17,14,45\n17,15,5\n17,16,5\n17,17,5\n17,18,5\n17,19,45\n17,20,5\n17,21,5\n17,22,45\n17,23,55\n17,24,95\n17,25,45\n17,26,45\n17,27,55\n17,28,95\n17,29,55\n17,30,95\n17,31,5\n17,32,15\n17,33,5\n17,34,55\n17,35,55\n17,36,45\n17,37,55\n17,38,55\n17,39,65\n17,40,95\n17,41,95\n17,42,95\n17,43,35\n17,44,35\n17,45,45\n17,46,45\n17,47,45\n17,48,55\n17,49,75\n17,50,55\n17,51,55\n17,52,55\n17,53,5\n17,54,5\n17,55,45\n17,56,35\n17,57,85\n17,58,95\n17,59,35\n17,60,95\n17,61,25\n17,62,35\n17,63,95\n17,64,85\n17,65,35\n17,66,5\n17,67,65\n17,68,85\n17,69,5\n17,70,35\n17,71,5\n17,72,5\n17,73,5\n17,74,5\n17,75,45\n17,76,35\n17,77,45\n17,78,45\n17,79,5\n17,80,5\n17,81,5\n17,82,5\n17,83,45\n17,84,45\n17,85,45\n17,86,5\n17,87,45\n17,88,5\n17,89,5\n17,90,5\n17,91,5\n17,92,5\n17,93,5\n17,94,5\n17,95,5\n17,96,5\n17,97,5\n17,98,5\n17,99,5\n17,100,5\n18,1,5\n18,2,5\n18,3,5\n18,4,5\n18,5,5\n18,6,15\n18,7,5\n18,8,5\n18,9,15\n18,10,15\n18,11,5\n18,12,45\n18,13,45\n18,14,45\n18,15,45\n18,16,45\n18,17,15\n18,18,5\n18,19,45\n18,20,55\n18,21,35\n18,22,15\n18,23,5\n18,24,5\n18,25,15\n18,26,15\n18,27,15\n18,28,55\n18,29,55\n18,30,95\n18,31,95\n18,32,55\n18,33,55\n18,34,5\n18,35,15\n18,36,5\n18,37,5\n18,38,5\n18,39,25\n18,40,5\n18,41,5\n18,42,45\n18,43,95\n18,44,95\n18,45,55\n18,46,55\n18,47,55\n18,48,15\n18,49,45\n18,50,55\n18,51,55\n18,52,45\n18,53,15\n18,54,5\n18,55,5\n18,56,5\n18,57,5\n18,58,5\n18,59,55\n18,60,45\n18,61,55\n18,62,55\n18,63,35\n18,64,55\n18,65,5\n18,66,55\n18,67,55\n18,68,35\n18,69,55\n18,70,5\n18,71,5\n18,72,15\n18,73,15\n18,74,5\n18,75,5\n18,76,5\n18,77,5\n18,78,5\n18,79,5\n18,80,5\n18,81,5\n18,82,5\n18,83,5\n18,84,5\n18,85,15\n18,86,55\n18,87,35\n18,88,35\n18,89,55\n18,90,55\n18,91,45\n18,92,45\n18,93,5\n18,94,5\n18,95,15\n18,96,35\n18,97,5\n18,98,5\n18,99,15\n18,100,5","format":{"type":"csv","parse":{"r":"number","c":"number","v":"number"}}},"mark":{"type":"rect"},"encoding":{"x":{"field":"c","type":"ordinal","scale":{"range":[57.3,576],"paddingInner":0,"paddingOuter":0},"axis":null},"y":{"field":"r","type":"ordinal","scale":{"range":[592,846.7],"paddingInner":0,"paddingOuter":0},"axis":null},"color":{"field":"v","type":"quantitative","scale":{"type":"quantize","domain":[0,100],"range":["#0d0887","#47039f","#7301a8","#9c179e","#bd3786","#d8576b","#ed7953","#fa9e3b","#fdc926","#f0f921"]},"legend":null}}},
{"data":{"values":"c,Fertility\n1,Subfertile\n2,Subfertile\n3,Subfertile\n4,Fertile\n5,Subfertile\n6,Subfertile\n7,Subfertile\n8,Subfertile\n9,Subfertile\n10,Subfertile\n11,Fertile\n12,Subfertile\n13,Fertile\n14,Subfertile\n15,Fertile\n16,Subfertile\n17,Subfertile\n18,Subfertile\n19,Fertile\n20,Fertile\n21,Subfertile\n22,Fertile\n23,Subfertile\n24,Subfertile\n25,Fertile\n26,Fertile\n27,Subfertile\n28,Fertile\n29,Subfertile\n30,Subfertile\n31,Subfertile\n32,Subfertile\n33,Subfertile\n34,Fertile\n35,Fertile\n36,Fertile\n37,Fertile\n38,Fertile\n39,Fertile\n40,Fertile\n41,Fertile\n42,Fertile\n43,Subfertile\n44,Subfertile\n45,Fertile\n46,Fertile\n47,Fertile\n48,Subfertile\n49,Fertile\n50,Fertile\n51,Subfertile\n52,Fertile\n53,Fertile\n54,Subfertile\n55,Fertile\n56,Subfertile\n57,Fertile\n58,Fertile\n59,Fertile\n60,Subfertile\n61,Subfertile\n62,Subfertile\n63,Fertile\n64,Fertile\n65,Fertile\n66,Subfertile\n67,Fertile\n68,Fertile\n69,Fertile\n70,Fertile\n71,Fertile\n72,Fertile\n73,Fertile\n74,Subfertile\n75,Fertile\n76,Fertile\n77,Fertile\n78,Fertile\n79,Fertile\n80,Fertile\n81,Fertile\n82,Subfertile\n83,Fertile\n84,Fertile\n85,Subfertile\n86,Subfertile\n87,Fertile\n88,Fertile\n89,Subfertile\n90,Subfertile\n91,Subfertile\n92,Fertile\n93,Fertile\n94,Subfertile\n95,Fertile\n96,Fertile\n97,Subfertile\n98,Fertile\n99,Fertile\n100,Subfertile","format":{"type":"csv","parse":{"c":"number"}}},"mark":{"type":"rect"},"encoding":{"x":{"field":"c","type":"ordinal","scale":{"range":[57.3,576],"paddingInner":0,"paddingOuter":0},"axis":null},"y":{"datum":0,"type":"quantitative","scale":{"domain":[0,1],"range":[590,583.3],"nice":false,"zero":false},"axis":null},"y2":{"datum":1},"color":{"field":"Fertility","type":"nominal","scale":{"domain":["Fertile","Subfertile"],"range":["#ff0000","#0000ff"]},"legend":{"orient":"none","legendX":69,"legendY":856,"title":"Fertility","titleFontSize":6.8,"titleFontWeight":"bold","titleColor":"#000000","titlePadding":2,"labelFontSize":7,"labelColor":"#444444","labelOffset":2,"symbolType":"square","symbolSize":144,"symbolStrokeWidth":0,"rowPadding":0,"symbolOffset":0}}}},
{"data":{"values":[{"r":1,"Status":"Hypomethylated"},{"r":2,"Status":"Hypermethylated"},{"r":3,"Status":"Hypermethylated"},{"r":4,"Status":"Hypermethylated"},{"r":5,"Status":"Hypermethylated"},{"r":6,"Status":"Hypermethylated"},{"r":7,"Status":"Hypomethylated"},{"r":8,"Status":"Hypermethylated"},{"r":9,"Status":"Hypermethylated"},{"r":10,"Status":"Hypermethylated"},{"r":11,"Status":"Hypermethylated"},{"r":12,"Status":"Hypermethylated"},{"r":13,"Status":"Hypermethylated"},{"r":14,"Status":"Hypermethylated"},{"r":15,"Status":"Hypermethylated"},{"r":16,"Status":"Hypermethylated"},{"r":17,"Status":"Hypomethylated"},{"r":18,"Status":"Hypermethylated"}]},"mark":{"type":"rect"},"encoding":{"y":{"field":"r","type":"ordinal","scale":{"range":[592,846.7],"paddingInner":0,"paddingOuter":0},"axis":null},"x":{"datum":0,"type":"quantitative","scale":{"domain":[0,1],"range":[47.7,54.7],"nice":false,"zero":false},"axis":null},"x2":{"datum":1},"color":{"field":"Status","type":"nominal","scale":{"domain":["Hypermethylated","Hypomethylated"],"range":["#ff0000","#000000"]},"legend":{"orient":"none","legendX":69,"legendY":899,"title":"Methylation status in subfertile","titleFontSize":6.8,"titleFontWeight":"bold","titleColor":"#000000","titlePadding":2,"labelFontSize":7,"labelColor":"#444444","labelOffset":2,"symbolType":"square","symbolSize":144,"symbolStrokeWidth":0,"rowPadding":0,"symbolOffset":0}}}},
{"data":{"values":[{"r":1,"t":"27:1454779-1454857 (MYOM2)"},{"r":2,"t":"14:70211867-70211993 (CDH17)"},{"r":3,"t":"19:62190963-62191042"},{"r":4,"t":"3:30965253-30965314"},{"r":5,"t":"20:71236573-71236653"},{"r":6,"t":"25:2257280-2257439"},{"r":7,"t":"27:42607850-42607968 (UBE2E2)"},{"r":8,"t":"1:153349988-153350096 (RFTN1)"},{"r":9,"t":"25:41610109-41610190 (UNCX)"},{"r":10,"t":"21:7590762-7590838 (SYNM)"},{"r":11,"t":"25:36071481-36071560 (NYAP1)"},{"r":12,"t":"18:54093956-54094112 (NPAS1)"},{"r":13,"t":"25:36069457-36069629 (NYAP1)"},{"r":14,"t":"26:22035232-22035268 (LBX1)"},{"r":15,"t":"26:50952309-50952328 (INPP5A)"},{"r":16,"t":"6:117348119-117348185 (FGFRL1)"},{"r":17,"t":"28:45711610-45711881"},{"r":18,"t":"5:119558911-119558971 (TRABD)"}]},"mark":{"type":"text","align":"left","baseline":"middle","fontSize":6.6,"color":"#222222"},"encoding":{"text":{"field":"t"},"y":{"field":"r","type":"ordinal","scale":{"range":[592,846.7],"paddingInner":0,"paddingOuter":0},"axis":null},"x":{"datum":0,"type":"quantitative","scale":{"domain":[0,1],"range":[578.3,600],"nice":false,"zero":false},"axis":null}}},
{"layer":[
{"data":{"name":"treeTop","values":"l,r,h,hl,hr\n1,2,.28,0,0\n3,4,.3,0,0\n1.5,3.5,.35,.28,.3\n5,6,.25,0,0\n7,8,.25,0,0\n5.5,7.5,.32,.25,.25\n2.5,6.5,.46,.35,.32\n9,10,.25,0,0\n11,12,.3,0,0\n9.5,11.5,.36,.25,.3\n4.5,10.5,.55,.46,.36\n13,14,.3,0,0\n15,16,.37,0,0\n13.5,15.5,.45,.3,.37\n17,18,.3,0,0\n14.5,17.5,.55,.45,.3\n7.5,16,.6,.55,.55\n19,20,.27,0,0\n21,22,.33,0,0\n19.5,21.5,.4,.27,.33\n23,24,.35,0,0\n25,26,.25,0,0\n23.5,25.5,.45,.35,.25\n20.5,24.5,.52,.4,.45\n27,28,.35,0,0\n29,30,.3,0,0\n27.5,29.5,.45,.35,.3\n31,32,.35,0,0\n31.5,33,.42,.35,0\n28.5,32.25,.55,.45,.42\n22.5,30.4,.62,.52,.55\n11.75,26.45,.74,.6,.62\n34,35,.25,0,0\n36,37,.3,0,0\n34.5,36.5,.38,.25,.3\n38,39,.28,0,0\n38.5,40,.35,.28,0\n35.5,39.25,.46,.38,.35\n41,42,.25,0,0\n37.4,41.5,.52,.46,.25\n43,44,.3,0,0\n45,46,.28,0,0\n43.5,45.5,.42,.3,.28\n47,48,.32,0,0\n44.5,47.5,.5,.42,.32\n49,50,.25,0,0\n51,52,.3,0,0\n49.5,51.5,.4,.25,.3\n53,54,.3,0,0\n50.5,53.5,.47,.4,.3\n46,52,.55,.5,.47\n39.45,49,.63,.52,.55\n55,56,.3,0,0\n57,58,.25,0,0\n55.5,57.5,.42,.3,.25\n59,60,.35,0,0\n56.5,59.5,.5,.42,.35\n61,62,.3,0,0\n63,64,.28,0,0\n61.5,63.5,.4,.3,.28\n58,62.5,.52,.5,.4\n65,66,.3,0,0\n67,68,.3,0,0\n65.5,67.5,.42,.3,.3\n60.25,66.5,.56,.52,.42\n69,70,.3,0,0\n71,72,.25,0,0\n69.5,71.5,.38,.3,.25\n73,74,.3,0,0\n70.5,73.5,.45,.38,.3\n75,76,.28,0,0\n77,78,.3,0,0\n75.5,77.5,.38,.28,.3\n79,80,.25,0,0\n76.5,79.5,.44,.38,.25\n72,78,.5,.45,.44\n81,82,.3,0,0\n83,84,.25,0,0\n81.5,83.5,.38,.3,.25\n85,86,.3,0,0\n82.5,85.5,.45,.38,.3\n87,88,.28,0,0\n89,90,.3,0,0\n87.5,89.5,.4,.28,.3\n84,88.5,.5,.45,.4\n91,92,.3,0,0\n93,94,.25,0,0\n91.5,93.5,.38,.3,.25\n95,96,.28,0,0\n92.5,95.5,.45,.38,.28\n97,98,.28,0,0\n99,100,.28,0,0\n97.5,99.5,.38,.28,.28\n94,98.5,.5,.45,.38\n86.25,96.25,.53,.5,.5\n75,91.25,.59,.5,.53\n63.4,83.1,.66,.56,.59\n44.2,73.25,.74,.63,.66\n19.1,58.75,1,.74,.74","format":{"type":"csv","parse":{"l":"number","r":"number","h":"number","hl":"number","hr":"number"}}},"mark":{"type":"rule","color":"#666666","strokeWidth":0.8},"encoding":{"x":{"field":"l","type":"quantitative","scale":{"domain":[0.5,100.5],"range":[57.3,576],"nice":false,"zero":false},"axis":null},"x2":{"field":"r"},"y":{"field":"h","type":"quantitative","scale":{"domain":[0,1],"range":[582.3,546.7],"nice":false,"zero":false},"axis":null}}},
{"data":{"name":"treeTop"},"mark":{"type":"rule","color":"#666666","strokeWidth":0.8},"encoding":{"x":{"field":"l","type":"quantitative","axis":null},"y":{"field":"hl","type":"quantitative","axis":null},"y2":{"field":"h"}}},
{"data":{"name":"treeTop"},"mark":{"type":"rule","color":"#666666","strokeWidth":0.8},"encoding":{"x":{"field":"r","type":"quantitative","axis":null},"y":{"field":"hr","type":"quantitative","axis":null},"y2":{"field":"h"}}},
{"mark":{"type":"rule","color":"#ffffff","strokeWidth":2.7},"encoding":{"x":{"datum":33.5,"type":"quantitative","axis":null},"y":{"datum":-0.02,"type":"quantitative","axis":null},"y2":{"datum":-7.5}}},
{"data":{"values":[{"t":"C"}]},"mark":{"type":"text","fontSize":16,"fontWeight":"bold","color":"#111111"},"encoding":{"text":{"field":"t"},"x":{"datum":-5.7,"type":"quantitative","axis":null},"y":{"datum":0.57,"type":"quantitative","axis":null}}}
]},
{"layer":[
{"data":{"name":"treeLeft","values":"l,r,h,hl,hr\n5,6,.29,0,0\n4,5.5,.43,0,.29\n3,4.75,.5,0,.43\n2,3.9,.55,0,.5\n1,2.95,.76,0,.55\n12,13,.24,0,0\n11,12.5,.33,0,.24\n10,11.75,.36,0,.33\n9,10.9,.43,0,.36\n15,16,.26,0,0\n14,15.5,.38,0,.26\n9.95,14.75,.48,.43,.38\n8,12.35,.59,0,.48\n7,10.2,.69,0,.59\n17,18,.72,0,0\n8.6,17.5,.8,.69,.72\n2,13.05,1,.76,.8","format":{"type":"csv","parse":{"l":"number","r":"number","h":"number","hl":"number","hr":"number"}}},"mark":{"type":"rule","color":"#666666","strokeWidth":0.9},"encoding":{"y":{"field":"l","type":"quantitative","scale":{"domain":[0.5,18.5],"range":[592,846.7],"nice":false,"zero":false},"axis":null},"y2":{"field":"r"},"x":{"field":"h","type":"quantitative","scale":{"domain":[0,1],"range":[47.7,12.3],"nice":false,"zero":false},"axis":null}}},
{"data":{"name":"treeLeft"},"mark":{"type":"rule","color":"#666666","strokeWidth":0.9},"encoding":{"y":{"field":"l","type":"quantitative","axis":null},"x":{"field":"hl","type":"quantitative","axis":null},"x2":{"field":"h"}}},
{"data":{"name":"treeLeft"},"mark":{"type":"rule","color":"#666666","strokeWidth":0.9},"encoding":{"y":{"field":"r","type":"quantitative","axis":null},"x":{"field":"hr","type":"quantitative","axis":null},"x2":{"field":"h"}}},
{"data":{"values":[{"g":6.5},{"g":16.5}]},"mark":{"type":"rule","color":"#ffffff","strokeWidth":2.7},"encoding":{"y":{"field":"g","type":"quantitative","axis":null},"x":{"datum":0,"type":"quantitative","axis":null},"x2":{"datum":-15}}},
{"data":{"values":[{"t":"1","y":3.6},{"t":"2","y":11.2},{"t":"3","y":17.5}]},"mark":{"type":"text","fontSize":11,"fontWeight":"bold","color":"#111111"},"encoding":{"text":{"field":"t"},"y":{"field":"y","type":"quantitative","axis":null},"x":{"datum":1.23,"type":"quantitative","axis":null}}}
]},
{"data":{"values":[{"lo":0,"hi":10},{"lo":10,"hi":20},{"lo":20,"hi":30},{"lo":30,"hi":40},{"lo":40,"hi":50},{"lo":50,"hi":60},{"lo":60,"hi":70},{"lo":70,"hi":80},{"lo":80,"hi":90},{"lo":90,"hi":100}]},"mark":{"type":"rect"},"encoding":{"y":{"field":"lo","type":"quantitative","scale":{"domain":[0,99],"range":[965,856],"nice":false,"zero":false},"axis":{"orient":"right","offset":-630.5,"values":[0,20,40,60,80],"domain":false,"ticks":false,"grid":false,"labelFontSize":8,"labelColor":"#555555","labelPadding":3,"title":null}},"y2":{"field":"hi"},"x":{"datum":0,"type":"quantitative","scale":{"domain":[0,1],"range":[47.3,54.3],"nice":false,"zero":false},"axis":null},"x2":{"datum":1},"color":{"field":"lo","type":"quantitative","scale":{"type":"quantize","domain":[0,100],"range":["#0d0887","#47039f","#7301a8","#9c179e","#bd3786","#d8576b","#ed7953","#fa9e3b","#fdc926","#f0f921"]},"legend":null}}}
]}
